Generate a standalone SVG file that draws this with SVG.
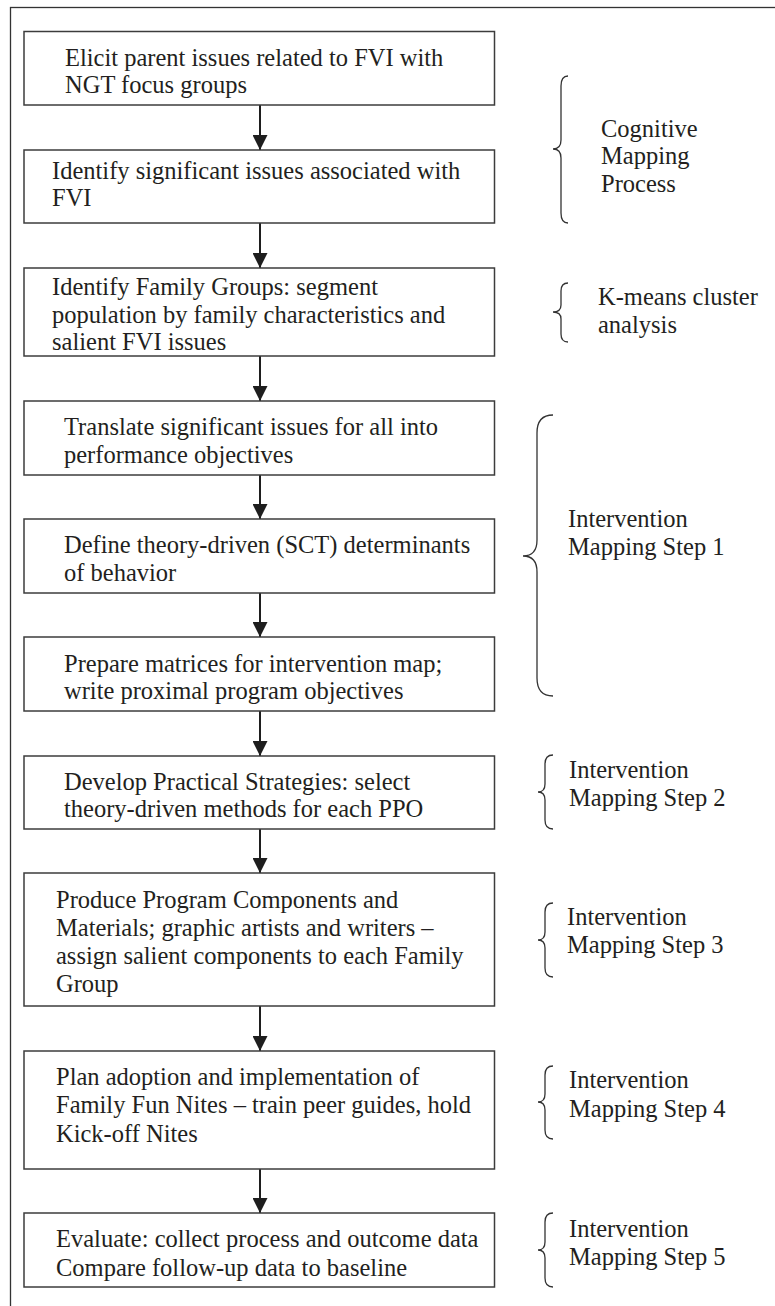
<svg xmlns="http://www.w3.org/2000/svg" width="775" height="1306" viewBox="0 0 775 1306">
<style>
.box{fill:#fff;stroke:#3c3c3c;stroke-width:1.5}
.t{font-family:"Liberation Serif","Times New Roman",serif;font-size:24.5px;fill:#231f20}
.brace{fill:none;stroke:#333;stroke-width:1.3}
.arr{stroke:#1e1e1e;stroke-width:2;fill:none}
.frame{fill:none;stroke:#333;stroke-width:1.3}
</style>
<defs>
<marker id="ah" markerWidth="15" markerHeight="15" refX="15" refY="7.5" orient="auto" markerUnits="userSpaceOnUse">
<path d="M0,0 L15,7.5 L0,15 Z" fill="#1e1e1e"/>
</marker>
</defs>
<rect width="775" height="1306" fill="#fff"/>
<rect class="frame" x="10.5" y="7.5" width="800" height="1400"/>

<g id="connectors">
<line class="arr" x1="260" y1="105" x2="260" y2="150" marker-end="url(#ah)"/>
<line class="arr" x1="260" y1="223" x2="260" y2="268" marker-end="url(#ah)"/>
<line class="arr" x1="260" y1="356" x2="260" y2="401" marker-end="url(#ah)"/>
<line class="arr" x1="260" y1="475" x2="260" y2="519" marker-end="url(#ah)"/>
<line class="arr" x1="260" y1="593" x2="260" y2="637" marker-end="url(#ah)"/>
<line class="arr" x1="260" y1="711" x2="260" y2="756" marker-end="url(#ah)"/>
<line class="arr" x1="260" y1="829" x2="260" y2="873" marker-end="url(#ah)"/>
<line class="arr" x1="260" y1="1006" x2="260" y2="1051" marker-end="url(#ah)"/>
<line class="arr" x1="260" y1="1169" x2="260" y2="1213" marker-end="url(#ah)"/>
</g>

<g id="n1"><rect class="box" x="24" y="31.5" width="470.5" height="73.5"/>
<text class="t" x="65" y="66">Elicit parent issues related to FVI with</text>
<text class="t" x="65" y="93">NGT focus groups</text></g>

<g id="n2"><rect class="box" x="24" y="150" width="470.5" height="73"/>
<text class="t" x="52" y="179">Identify significant issues associated with</text>
<text class="t" x="52" y="206">FVI</text></g>

<g id="n3"><rect class="box" x="24" y="268" width="470.5" height="88"/>
<text class="t" x="52" y="295">Identify Family Groups: segment</text>
<text class="t" x="52" y="323">population by family characteristics and</text>
<text class="t" x="52" y="350">salient FVI issues</text></g>

<g id="n4"><rect class="box" x="24" y="401" width="470.5" height="74"/>
<text class="t" x="64" y="435">Translate significant issues for all into</text>
<text class="t" x="64" y="463">performance objectives</text></g>

<g id="n5"><rect class="box" x="24" y="519" width="470.5" height="74"/>
<text class="t" x="64" y="553">Define theory-driven (SCT) determinants</text>
<text class="t" x="64" y="581">of behavior</text></g>

<g id="n6"><rect class="box" x="24" y="637" width="470.5" height="74"/>
<text class="t" x="64" y="672">Prepare matrices for intervention map;</text>
<text class="t" x="64" y="699">write proximal program objectives</text></g>

<g id="n7"><rect class="box" x="24" y="756" width="470.5" height="73"/>
<text class="t" x="64" y="790">Develop Practical Strategies: select</text>
<text class="t" x="64" y="817">theory-driven methods for each PPO</text></g>

<g id="n8"><rect class="box" x="24" y="873" width="470.5" height="133"/>
<text class="t" x="56" y="908">Produce Program Components and</text>
<text class="t" x="56" y="936">Materials; graphic artists and writers –</text>
<text class="t" x="56" y="964">assign salient components to each Family</text>
<text class="t" x="56" y="992">Group</text></g>

<g id="n9"><rect class="box" x="24" y="1051" width="470.5" height="118"/>
<text class="t" x="56" y="1085">Plan adoption and implementation of</text>
<text class="t" x="56" y="1113">Family Fun Nites – train peer guides, hold</text>
<text class="t" x="56" y="1142">Kick-off Nites</text></g>

<g id="n10"><rect class="box" x="24" y="1213" width="470.5" height="74"/>
<text class="t" x="56" y="1247">Evaluate: collect process and outcome data</text>
<text class="t" x="56" y="1276">Compare follow-up data to baseline</text></g>

<g id="b1"><path class="brace" d="M568,76 Q561,76 561,86 L561,140 Q561,149 553,149 Q561,149 561,158 L561,213 Q561,223 568,223"/>
<text class="t" x="601" y="137">Cognitive</text>
<text class="t" x="601" y="164">Mapping</text>
<text class="t" x="601" y="192">Process</text></g>

<g id="b2"><path class="brace" d="M568,283 Q561,283 561,291 L561,305 Q561,312 553,312 Q561,312 561,319 L561,334 Q561,342 568,342"/>
<text class="t" x="598" y="305">K-means cluster</text>
<text class="t" x="598" y="333">analysis</text></g>

<g id="b3"><path class="brace" d="M553,415 Q537,415 537,433 L537,540 Q537,556 523,556 Q537,556 537,572 L537,678 Q537,696 553,696"/>
<text class="t" x="568" y="527">Intervention</text>
<text class="t" x="568" y="555">Mapping Step 1</text></g>

<g id="b4"><path class="brace" d="M553,755 Q545,755 545,764 L545,784 Q545,792 538,792 Q545,792 545,800 L545,820 Q545,829 553,829"/>
<text class="t" x="569" y="778">Intervention</text>
<text class="t" x="569" y="806">Mapping Step 2</text></g>

<g id="b5"><path class="brace" d="M553,903 Q545,903 545,912 L545,932 Q545,940 538,940 Q545,940 545,948 L545,968 Q545,977 553,977"/>
<text class="t" x="567" y="925">Intervention</text>
<text class="t" x="567" y="953">Mapping Step 3</text></g>

<g id="b6"><path class="brace" d="M553,1066 Q545,1066 545,1075 L545,1094 Q545,1102 538,1102 Q545,1102 545,1110 L545,1130 Q545,1139 553,1139"/>
<text class="t" x="569" y="1088">Intervention</text>
<text class="t" x="569" y="1117">Mapping Step 4</text></g>

<g id="b7"><path class="brace" d="M553,1213 Q545,1213 545,1222 L545,1242 Q545,1250 538,1250 Q545,1250 545,1258 L545,1278 Q545,1287 553,1287"/>
<text class="t" x="569" y="1237">Intervention</text>
<text class="t" x="569" y="1265">Mapping Step 5</text></g>
</svg>
